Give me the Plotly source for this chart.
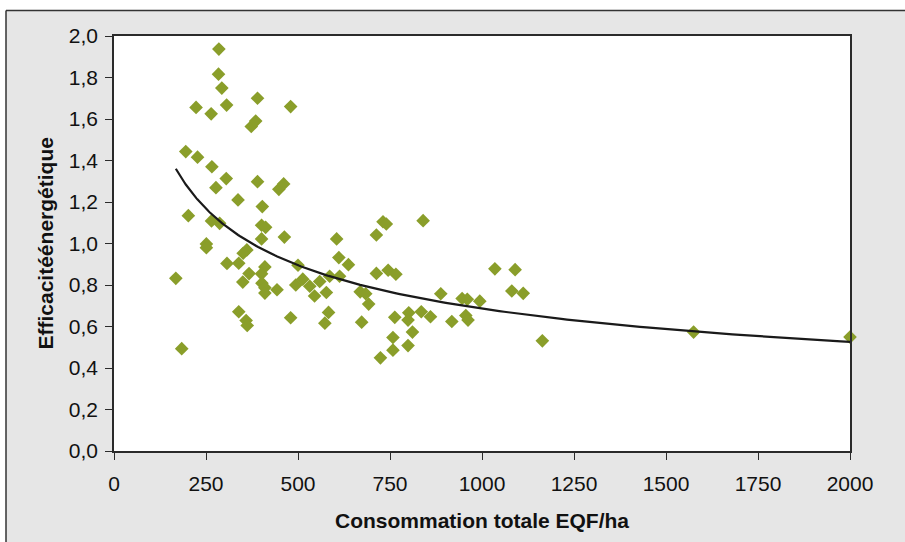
import numpy as np
import plotly.graph_objects as go

# Data
consommation = [285, 284, 293, 390, 223, 264, 306, 480, 373, 385,
                195, 227, 266, 305, 277, 390, 448, 461, 337, 403,
                202, 265, 287, 401, 412, 463, 401, 251, 251, 361,
                351, 307, 339, 500, 168, 367, 350, 410, 401, 402,
                410, 410, 443, 494, 513, 532, 339, 359, 362, 480,
                184, 605, 713, 611, 637, 559, 545, 577, 586, 613,
                713, 745, 766, 669, 684, 692, 583, 573, 673, 763,
                801, 799, 835, 860, 811, 758, 758, 799, 724, 888,
                946, 960, 994, 918, 956, 962, 1035, 1090, 1081, 1112,
                1164, 1575, 2000, 840, 731, 740]
efficacite = [1.937, 1.816, 1.749, 1.700, 1.656, 1.625, 1.667, 1.660, 1.564, 1.590,
              1.443, 1.416, 1.370, 1.313, 1.269, 1.298, 1.261, 1.287, 1.210, 1.178,
              1.134, 1.109, 1.097, 1.088, 1.078, 1.031, 1.022, 0.998, 0.980, 0.969,
              0.953, 0.904, 0.905, 0.895, 0.832, 0.855, 0.814, 0.887, 0.854, 0.809,
              0.787, 0.761, 0.777, 0.800, 0.828, 0.794, 0.671, 0.629, 0.605, 0.642,
              0.493, 1.022, 1.041, 0.932, 0.898, 0.817, 0.747, 0.764, 0.842, 0.842,
              0.856, 0.871, 0.852, 0.767, 0.758, 0.708, 0.668, 0.616, 0.621, 0.644,
              0.666, 0.631, 0.671, 0.647, 0.573, 0.547, 0.486, 0.508, 0.449, 0.758,
              0.735, 0.731, 0.722, 0.624, 0.653, 0.631, 0.878, 0.874, 0.771, 0.760,
              0.531, 0.573, 0.549, 1.110, 1.105, 1.094]

x_ticks = [0, 250, 500, 750, 1000, 1250, 1500, 1750, 2000]
x_ticktext = ["0", "250", "500", "750", "1000", "1250", "1500", "1750", "2000"]
y_ticks = [0.0, 0.2, 0.4, 0.6, 0.8, 1.0, 1.2, 1.4, 1.6, 1.8, 2.0]
y_ticktext = ["0,0", "0,2", "0,4", "0,6", "0,8", "1,0", "1,2", "1,4", "1,6", "1,8", "2,0"]

x_title = "Consommation totale EQF/ha"
y_title = "Efficacitéénergétique"

# Power trendline (least squares in log-log space, as a spreadsheet would do)
xa = np.array(consommation, dtype=float)
ya = np.array(efficacite, dtype=float)
b, ln_a = np.polyfit(np.log(xa), np.log(ya), 1)
x_fit = np.geomspace(xa.min(), xa.max(), 200)
y_fit = np.exp(ln_a) * x_fit ** b

FONT = "Liberation Sans, Arial, Helvetica, sans-serif"
GREEN = "#8A9E2A"
AXIS = "#2b2b2b"

fig = go.Figure()
fig.add_trace(go.Scatter(
    x=consommation, y=efficacite, mode="markers",
    marker=dict(symbol="diamond", size=10.5, color=GREEN, line=dict(width=0)),
    cliponaxis=False, showlegend=False, hoverinfo="x+y"))
fig.add_trace(go.Scatter(
    x=x_fit, y=y_fit, mode="lines",
    line=dict(color="#1a1a1a", width=2.2),
    showlegend=False, hoverinfo="skip"))

W, H = 905, 542
L, R, T, B = 114, 55, 36, 91
PW, PH = W - L - R, H - T - B


def px(xp):
    return (xp - L) / PW


def py(yp):
    return (H - B - yp) / PH


shapes = [
    # white page outside the gray frame (top strip and left strip)
    dict(type="rect", xref="paper", yref="paper", x0=px(-5), x1=px(W + 5), y0=py(10.5), y1=py(-5),
         fillcolor="white", line=dict(width=0), layer="above"),
    dict(type="rect", xref="paper", yref="paper", x0=px(-5), x1=px(6), y0=py(H + 5), y1=py(-5),
         fillcolor="white", line=dict(width=0), layer="above"),
    # frame lines
    dict(type="line", xref="paper", yref="paper", x0=px(6), x1=px(W + 5), y0=py(10.5), y1=py(10.5),
         line=dict(color="#333333", width=1.5), layer="above"),
    dict(type="line", xref="paper", yref="paper", x0=px(6), x1=px(6), y0=py(10.5), y1=py(H + 5),
         line=dict(color="#333333", width=1.5), layer="above"),
]

annotations = [
    dict(text=f"<b>{x_title}</b>", xref="paper", yref="paper", x=0.5, y=py(520),
         xanchor="center", yanchor="middle", showarrow=False,
         font=dict(family=FONT, size=21, color="#111111")),
    dict(text=f"<b>{y_title}</b>", xref="paper", yref="paper", x=px(45), y=0.5,
         xanchor="center", yanchor="middle", showarrow=False, textangle=-90,
         font=dict(family=FONT, size=21, color="#111111")),
]

fig.update_layout(
    width=W, height=H,
    margin=dict(l=L, r=R, t=T, b=B, pad=0),
    paper_bgcolor="#e6e6e6", plot_bgcolor="white",
    font=dict(family=FONT, size=21, color="#111111"),
    shapes=shapes, annotations=annotations,
    showlegend=False,
)
fig.update_xaxes(
    range=[0, 2000], tickvals=x_ticks, ticktext=x_ticktext,
    showgrid=False, zeroline=False, showline=True, mirror=True,
    linecolor=AXIS, linewidth=1.5, ticks="outside", ticklen=7, tickwidth=1.3, tickcolor=AXIS,
    ticklabelstandoff=6,
    tickfont=dict(family=FONT, size=21, color="#111111"), fixedrange=True)
fig.update_yaxes(
    range=[0, 2.0], tickvals=y_ticks, ticktext=y_ticktext,
    showgrid=False, zeroline=False, showline=True, mirror=True,
    linecolor=AXIS, linewidth=1.5, ticks="outside", ticklen=7, tickwidth=1.3, tickcolor=AXIS,
    ticklabelstandoff=3,
    tickfont=dict(family=FONT, size=21, color="#111111"), fixedrange=True)

fig.write_html("out.html", config={"displayModeBar": False},
               post_script="document.body.style.margin='0';document.body.style.overflow='hidden';")
